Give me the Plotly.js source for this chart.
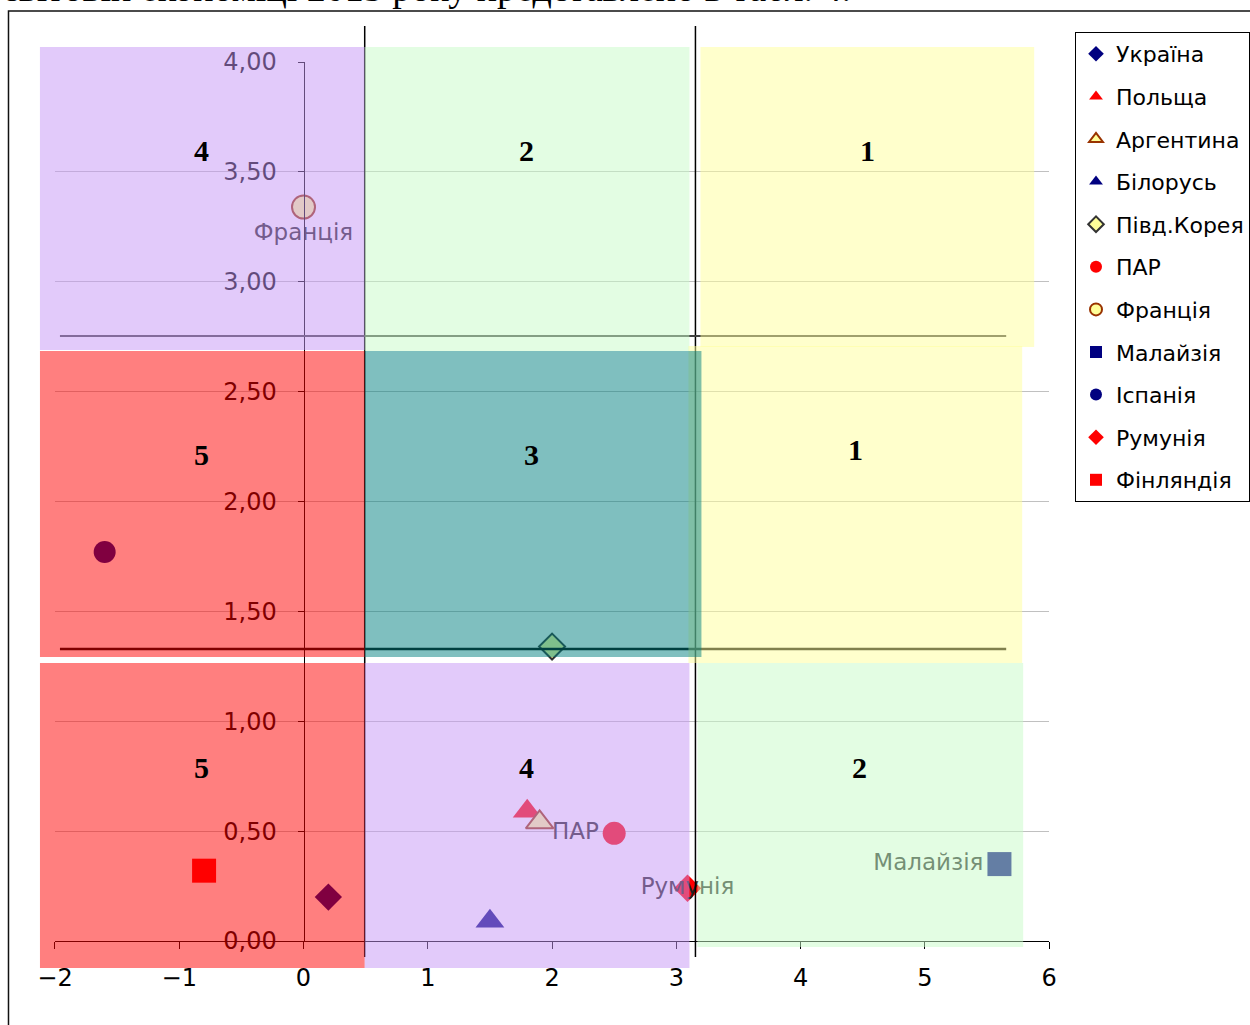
<!DOCTYPE html>
<html>
<head>
<meta charset="utf-8">
<script src="https://cdn.plot.ly/plotly-3.0.1.min.js"></script>
<style>html,body{margin:0;padding:0;background:#fff;}#chart{width:1250px;height:1025px;}</style>
</head>
<body>
<div id="chart"></div>
<script>
// ---- data ----
const countries = ['Україна', 'Польща', 'Аргентина', 'Білорусь', 'Півд.Корея', 'ПАР', 'Франція', 'Малайзія', 'Іспанія', 'Румунія', 'Фінляндія'];
const xValues = [0.2, 1.8, 1.9, 1.5, 2.0, 2.5, 0.0, 5.6, -1.6, 3.09, -0.8];
const yValues = [0.2, 0.59, 0.54, 0.09, 1.34, 0.49, 3.34, 0.35, 1.77, 0.24, 0.32];
const pointLabels = ['', '', '', '', '', 'ПАР', 'Франція', 'Малайзія', '', 'Румунія', ''];
const xTickValues = [-2, -1, 0, 1, 2, 3, 4, 5, 6];
const yTickValues = [0, 0.5, 1, 1.5, 2, 2.5, 3, 3.5, 4];
const zoneNumbers = ['4', '2', '1', '5', '3', '1', '5', '4', '2'];
const headerText = 'світовій економіці 2015 року представлено в табл. 4.';

// ---- styles ----
const markerStyles = [
  {symbol: 'diamond', color: '#000080', size: 21, line: {width: 0}},
  {symbol: 'triangle-up', color: '#FF0000', size: 25, line: {width: 0}},
  {symbol: 'triangle-up', color: '#FFFF99', size: 24, line: {width: 2, color: '#993300'}},
  {symbol: 'triangle-up', color: '#000080', size: 25, line: {width: 0}},
  {symbol: 'diamond', color: '#FFFF99', size: 20, line: {width: 2, color: '#333333'}},
  {symbol: 'circle', color: '#FF0000', size: 23, line: {width: 0}},
  {symbol: 'circle', color: '#FFFF99', size: 23, line: {width: 2, color: '#993300'}},
  {symbol: 'square', color: '#000080', size: 24, line: {width: 0}},
  {symbol: 'circle', color: '#000080', size: 22, line: {width: 0}},
  {symbol: 'diamond', color: '#FF0000', size: 21, line: {width: 0}},
  {symbol: 'square', color: '#FF0000', size: 24, line: {width: 0}}
];
const labelPositions = ['top center', 'top center', 'top center', 'top center', 'top center', 'middle left', 'bottom center', 'middle left', 'top center', 'middle center', 'top center'];

const SANS = 'DejaVu Sans, Arial, sans-serif';
const SERIF = 'Liberation Serif, Times New Roman, serif';

// whole page is the paper; plot area in pixels: x 55..1050, y 62..941
const W = 1250, H = 1025;
const L = 55, R = 1050, T = 62, B = 941;
const px2x = p => p / W;
const py2y = p => 1 - p / H;

const traces = countries.map((name, i) => ({
  type: 'scatter',
  mode: pointLabels[i] ? 'markers+text' : 'markers',
  name: name,
  legendgroup: 'g' + i,
  x: [xValues[i]],
  y: [yValues[i]],
  text: [pointLabels[i]],
  textposition: labelPositions[i],
  textfont: {family: SANS, size: 23, color: '#222222'},
  marker: markerStyles[i],
  cliponaxis: false,
  hoverinfo: 'name+x+y'
}));

function lineShape(x0, y0, x1, y1, color, width) {
  return {type: 'line', xref: 'paper', yref: 'paper', x0: px2x(x0), x1: px2x(x1), y0: py2y(y0), y1: py2y(y1),
    line: {color: color, width: width}, layer: 'above'};
}
function rectShape(x0, x1, y0, y1, color) {
  return {type: 'rect', xref: 'paper', yref: 'paper', x0: px2x(x0), x1: px2x(x1), y0: py2y(y1), y1: py2y(y0),
    fillcolor: color, opacity: 0.5, line: {width: 0}, layer: 'above'};
}

const PURPLE = '#C596F5', GREEN = '#C7FBC7', YELLOW = '#FFFF99', TEAL = '#008080', RED = '#FF0000';

const shapes = [
  lineShape(365, 26, 365, 957, '#000000', 1.5),
  lineShape(696, 26, 696, 957, '#000000', 1.5),
  lineShape(60, 336, 1007, 336, '#404040', 2),
  lineShape(60, 649, 1007, 649, '#000000', 2.5),
  rectShape(40, 365, 47, 350, PURPLE),
  rectShape(365, 690, 47, 351, GREEN),
  rectShape(701, 1035, 47, 347, YELLOW),
  rectShape(40, 365, 351, 657, RED),
  rectShape(689, 1023, 346, 663, YELLOW),
  rectShape(365, 702, 351, 657, TEAL),
  rectShape(40, 365, 663, 968, RED),
  rectShape(365, 690, 663, 968, PURPLE),
  rectShape(698, 1024, 663, 947, GREEN),
  // outer frame of the scanned page
  {type: 'rect', xref: 'paper', yref: 'paper', x0: px2x(8.5), x1: px2x(1265), y0: py2y(1040), y1: py2y(11),
    line: {color: '#111111', width: 1.5}, fillcolor: 'rgba(0,0,0,0)', layer: 'above'}
];

const zonePos = [[202, 150], [527, 150], [868, 150], [202, 455], [532, 455], [856, 450], [202, 767], [527, 767], [860, 767]];
const annotations = zoneNumbers.map((t, i) => ({
  text: '<b>' + t + '</b>', xref: 'paper', yref: 'paper', x: px2x(zonePos[i][0]), y: py2y(zonePos[i][1]),
  xanchor: 'center', yanchor: 'middle', showarrow: false,
  font: {family: SERIF, size: 30, color: '#000000'}
}));
annotations.push({
  text: headerText, xref: 'paper', yref: 'paper', x: px2x(0), y: py2y(11.5),
  xanchor: 'left', yanchor: 'bottom', showarrow: false,
  font: {family: SERIF, size: 38, color: '#000000'}
});

const layout = {
  width: W, height: H, autosize: false,
  margin: {l: 0, r: 0, t: 0, b: 0, pad: 0},
  paper_bgcolor: '#ffffff', plot_bgcolor: '#ffffff',
  separators: ', ',
  showlegend: true,
  legend: {
    x: px2x(1076), y: py2y(32), xanchor: 'left', yanchor: 'top',
    bgcolor: '#ffffff', bordercolor: '#000000', borderwidth: 1,
    font: {family: SANS, size: 22, color: '#000000'},
    traceorder: 'grouped', tracegroupgap: 11, itemsizing: 'constant'
  },
  xaxis: {
    domain: [L / W, R / W],
    range: [-2, 6], tickmode: 'array', tickvals: xTickValues,
    ticks: 'outside', ticklen: 7, tickcolor: '#000000', tickwidth: 1,
    showline: true, linecolor: '#000000', linewidth: 1,
    showgrid: false, zeroline: false,
    tickfont: {family: SANS, size: 24, color: '#000000'},
    ticklabelstandoff: 8
  },
  yaxis: {
    domain: [1 - B / H, 1 - T / H],
    range: [0, 4], tickmode: 'array', tickvals: yTickValues, tickformat: '.2f',
    anchor: 'free', position: px2x(L + 0.25 * (R - L)), side: 'left',
    ticks: 'outside', ticklen: 6, tickcolor: '#000000', tickwidth: 1,
    showline: true, linecolor: '#000000', linewidth: 1,
    showgrid: true, gridcolor: '#c0c0c0', gridwidth: 1, zeroline: false,
    tickfont: {family: SANS, size: 24, color: '#000000'},
    ticklabelstandoff: 16
  },
  shapes: shapes,
  annotations: annotations
};

Plotly.newPlot('chart', traces, layout, {displayModeBar: false, staticPlot: true});
</script>
</body>
</html>
